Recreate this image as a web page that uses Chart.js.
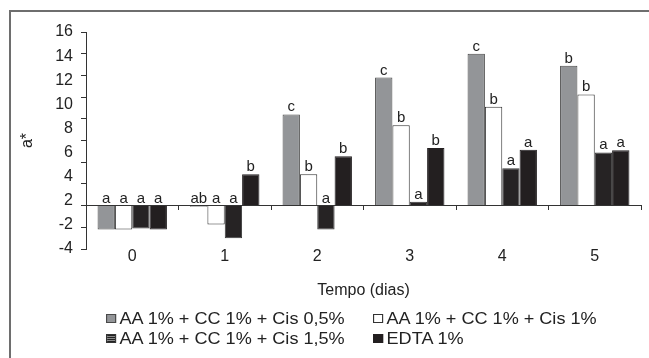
<!DOCTYPE html>
<html>
<head>
<meta charset="utf-8">
<script src="https://cdn.jsdelivr.net/npm/chart.js@4/dist/chart.umd.min.js"></script>
<style>
  html, body { margin: 0; padding: 0; background: #fff; }
  #wrap { position: relative; width: 649px; height: 358px; overflow: hidden; font-family: "Liberation Sans", Arial, sans-serif; color: #222; }
  #frame { position: absolute; left: 9px; top: 10px; width: 700px; height: 400px; border-top: 2px solid #6e6e6e; border-left: 2px solid #6e6e6e; }
  canvas { position: absolute; left: 0; top: 0; }
  .item { position: absolute; font-size: 16px; line-height: 18px; white-space: nowrap; transform: scaleX(1.13); transform-origin: 0 50%; }
  .sw { display: inline-block; width: 9px; height: 9px; border: 1px solid #444; vertical-align: 1px; margin-right: 3px; box-sizing: border-box; }
</style>
</head>
<body>
<div id="wrap">
  <div id="frame"></div>
  <canvas id="c" width="649" height="358"></canvas>
  <div id="legend"></div>
</div>
<script>
const categories = ['0', '1', '2', '3', '4', '5'];
const seriesNames = ['AA 1% + CC 1% + Cis 0,5%', 'AA 1% + CC 1% + Cis 1%', 'AA 1% + CC 1% + Cis 1,5%', 'EDTA 1%'];
const cis05 = [-2.2, -0.1, 8.4, 11.8, 14.0, 12.9];
const cis1 = [-2.2, -1.75, 2.9, 7.4, 9.1, 10.25];
const cis15 = [-2.1, -3.0, -2.2, 0.35, 3.45, 4.9];
const edta = [-2.2, 2.9, 4.55, 5.3, 5.15, 5.1];
const letters05 = ['a', 'ab', 'c', 'c', 'c', 'b'];
const letters1 = ['a', 'a', 'b', 'b', 'b', 'b'];
const letters15 = ['a', 'a', 'a', 'a', 'a', 'a'];
const lettersEdta = ['a', 'b', 'b', 'b', 'a', 'a'];
const yTickValues = [-4, -2, 0, 2, 4, 6, 8, 10, 12, 14, 16];
// the printed axis shows ten evenly spaced labels (no "0")
const yTickLabels = ['-4', '-2', '2', '4', '6', '8', '10', '12', '14', '16'];

const allLetters = [letters05, letters1, letters15, lettersEdta];

const letterPlugin = {
  id: 'letters',
  afterDatasetsDraw(chart) {
    const ctx = chart.ctx;
    ctx.save();
    ctx.font = '15px "Liberation Sans", Arial, sans-serif';
    ctx.fillStyle = '#222';
    ctx.textAlign = 'center';
    ctx.textBaseline = 'alphabetic';
    chart.data.datasets.forEach((ds, di) => {
      const meta = chart.getDatasetMeta(di);
      meta.data.forEach((el, i) => {
        const top = Math.min(el.y, el.base);
        ctx.fillText(allLetters[di][i], el.x, top - 3);
      });
    });
    ctx.restore();
  }
};

const font = { family: '"Liberation Sans", Arial, sans-serif', size: 16 };

new Chart(document.getElementById('c'), {
  type: 'bar',
  data: {
    labels: categories,
    datasets: [
      { label: seriesNames[0], data: cis05, backgroundColor: '#939598', borderColor: '#4a4a4a', borderWidth: 1 },
      { label: seriesNames[1], data: cis1, backgroundColor: '#ffffff', borderColor: '#333333', borderWidth: 1 },
      { label: seriesNames[2], data: cis15, backgroundColor: '#262324', borderColor: '#3a3a3a', borderWidth: 1 },
      { label: seriesNames[3], data: edta, backgroundColor: '#231f20', borderColor: '#231f20', borderWidth: 1 }
    ]
  },
  options: {
    responsive: false,
    animation: false,
    devicePixelRatio: 1,
    categoryPercentage: 0.75,
    barPercentage: 1,
    layout: { padding: { left: 12, right: 8, top: 32, bottom: 49 } },
    plugins: { legend: { display: false }, tooltip: { enabled: false } },
    scales: {
      x: {
        position: 'bottom',
        offset: true,
        grid: { display: false, drawTicks: false },
        border: { display: false },
        ticks: { font: font, color: '#222', padding: -2 },
        title: { display: true, text: 'Tempo (dias)', font: font, color: '#222', padding: { top: 0, bottom: 9 } },
        afterFit(s) { s.height = 60; }
      },
      x0: {
        type: 'category',
        position: { y: 0 },
        offset: true,
        grid: { drawOnChartArea: false, drawTicks: true, tickLength: 4, color: '#333', offset: true },
        border: { display: true, color: '#333', width: 1 },
        ticks: { display: false },
        afterFit(s) { s.height = 0; }
      },
      y: {
        position: 'left',
        weight: 0,
        min: -4,
        max: 16,
        afterBuildTicks(s) { s.ticks = yTickValues.map(v => ({ value: v })); },
        ticks: { display: false },
        grid: { drawOnChartArea: false, drawTicks: true, tickLength: 5, color: '#333' },
        border: { display: true, color: '#333', width: 1 },
        afterFit(s) { s.width = 5; }
      },
      yLab: {
        type: 'linear',
        position: 'left',
        weight: 1,
        min: 0,
        max: yTickLabels.length - 1,
        afterBuildTicks(s) { s.ticks = yTickLabels.map((t, i) => ({ value: i })); },
        ticks: {
          font: font, color: '#222', padding: 8, autoSkip: false,
          callback(v) { return yTickLabels[v] !== undefined ? yTickLabels[v] : ''; }
        },
        grid: { display: false, drawTicks: false },
        border: { display: false },
        title: { display: true, text: 'a*', font: font, color: '#222', padding: { top: 6, bottom: 0 } },
        afterFit(s) { s.width = 69; }
      }
    }
  },
  plugins: [letterPlugin]
});

// legend (HTML)
const swatchStyles = [
  'background:#939598;border-color:#4a4a4a;',
  'background:#ffffff;border-color:#333;',
  'background:repeating-linear-gradient(to bottom,#222 0px,#222 1px,#8a8a8a 1px,#8a8a8a 2px);border-color:#333;',
  'background:#231f20;border-color:#231f20;'
];
const legendPos = [[106, 310], [373, 310], [106, 330], [373, 330]];
const leg = document.getElementById('legend');
seriesNames.forEach((name, i) => {
  const d = document.createElement('div');
  d.className = 'item';
  d.style.left = legendPos[i][0] + 'px';
  d.style.top = legendPos[i][1] + 'px';
  d.innerHTML = '<span class="sw" style="' + swatchStyles[i] + '"></span>' + name;
  leg.appendChild(d);
});
</script>
</body>
</html>
